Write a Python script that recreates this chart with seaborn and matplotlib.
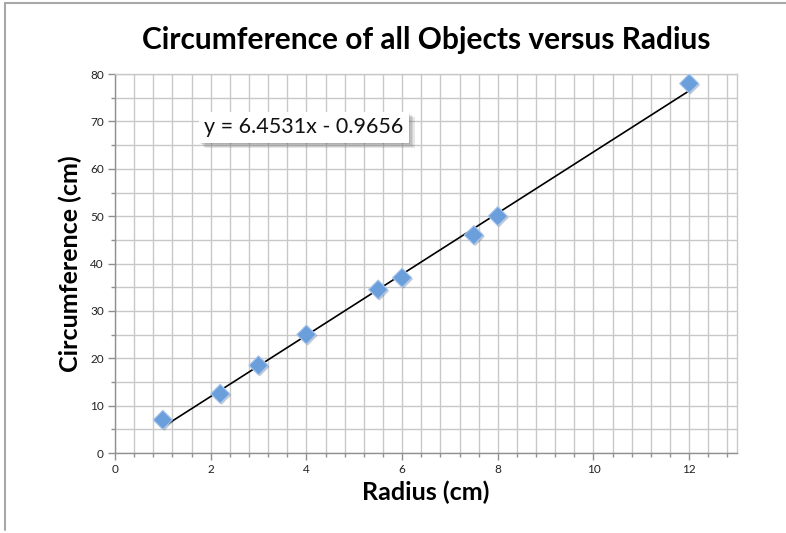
import numpy as np
import pandas as pd
import matplotlib
matplotlib.use('Agg')
import matplotlib.pyplot as plt
import matplotlib.patheffects as pe
from matplotlib.lines import Line2D
from matplotlib.ticker import MultipleLocator
import seaborn as sns

# data
radius = [1.0, 2.2, 3.0, 4.0, 5.5, 6.0, 7.5, 8.0, 12.0]
circumference = [7.0, 12.5, 18.5, 25.0, 34.5, 37.0, 46.0, 50.0, 78.0]
slope, intercept = 6.4531, -0.9656
eq_label = 'y = 6.4531x - 0.9656'

df = pd.DataFrame({'radius': radius, 'circumference': circumference})

sns.set_theme(style='white')
plt.rcParams['font.family'] = ['Lato', 'DejaVu Sans']

fig = plt.figure(figsize=(7.86, 5.33), dpi=100)
ax = fig.add_axes([0.1463, 0.150, 0.7914, 0.711])

grid_c = '#c8c8c8'
ax.set_xlim(0, 13)
ax.set_ylim(0, 80)
ax.xaxis.set_major_locator(MultipleLocator(2))
ax.xaxis.set_minor_locator(MultipleLocator(0.4))
ax.yaxis.set_major_locator(MultipleLocator(10))
ax.yaxis.set_minor_locator(MultipleLocator(5))
ax.grid(True, which='both', color=grid_c, linewidth=1.0)
ax.set_axisbelow(True)

for s in ['top', 'right']:
    ax.spines[s].set_color(grid_c)
    ax.spines[s].set_linewidth(1.0)
for s in ['left', 'bottom']:
    ax.spines[s].set_color('#909090')
    ax.spines[s].set_linewidth(1.0)

ax.tick_params(which='both', direction='out', color='#909090', width=1.0,
               bottom=True, left=True, labelsize=8.5, labelcolor='#222222', pad=3)
ax.tick_params(which='major', length=5)
ax.tick_params(which='minor', length=3)

# trendline
xl = np.array([df['radius'].min(), df['radius'].max()])
ax.plot(xl, slope * xl + intercept, color='black', linewidth=1.2, zorder=3)

sns.scatterplot(data=df, x='radius', y='circumference', marker='D', s=95,
                color='#6b9fdc', edgecolor='#a8c6ec', linewidth=0.8,
                ax=ax, zorder=4, legend=False)
for c in ax.collections:
    c.set_path_effects([pe.SimplePatchShadow(offset=(1.0, -1.0), alpha=0.25),
                        pe.Normal()])

t = ax.text(3.95, 68.8, eq_label, fontsize=15.5, ha='center', va='center',
            color='#111111', zorder=5,
            bbox=dict(boxstyle='square,pad=0.25', facecolor='white',
                      edgecolor='none'))
# soft drop shadow built from a few faint offset copies
soft = [pe.SimplePatchShadow(offset=(o, -o), shadow_rgbFace='#404040', alpha=0.12)
        for o in (1.0, 2.0, 3.0, 4.0)]
t.get_bbox_patch().set_path_effects(soft + [pe.Normal()])

ax.set_title('Circumference of all Objects versus Radius', fontsize=21.5,
             fontweight='bold', pad=18, color='black')
ax.set_xlabel('Radius (cm)', fontsize=18, fontweight='bold', labelpad=4,
              color='black')
ax.set_ylabel('Circumference (cm)', fontsize=18, fontweight='bold',
              labelpad=6, color='black')

# chart-area border (left and top edges visible)
fig.add_artist(Line2D([5 / 786, 5 / 786], [1 - 3 / 533, 1 - 530 / 533],
                      transform=fig.transFigure, color='#a8a8a8', linewidth=1.5))
fig.add_artist(Line2D([5 / 786, 1.0], [1 - 3 / 533, 1 - 3 / 533],
                      transform=fig.transFigure, color='#a8a8a8', linewidth=1.5))

fig.savefig('out.png', dpi=100)
